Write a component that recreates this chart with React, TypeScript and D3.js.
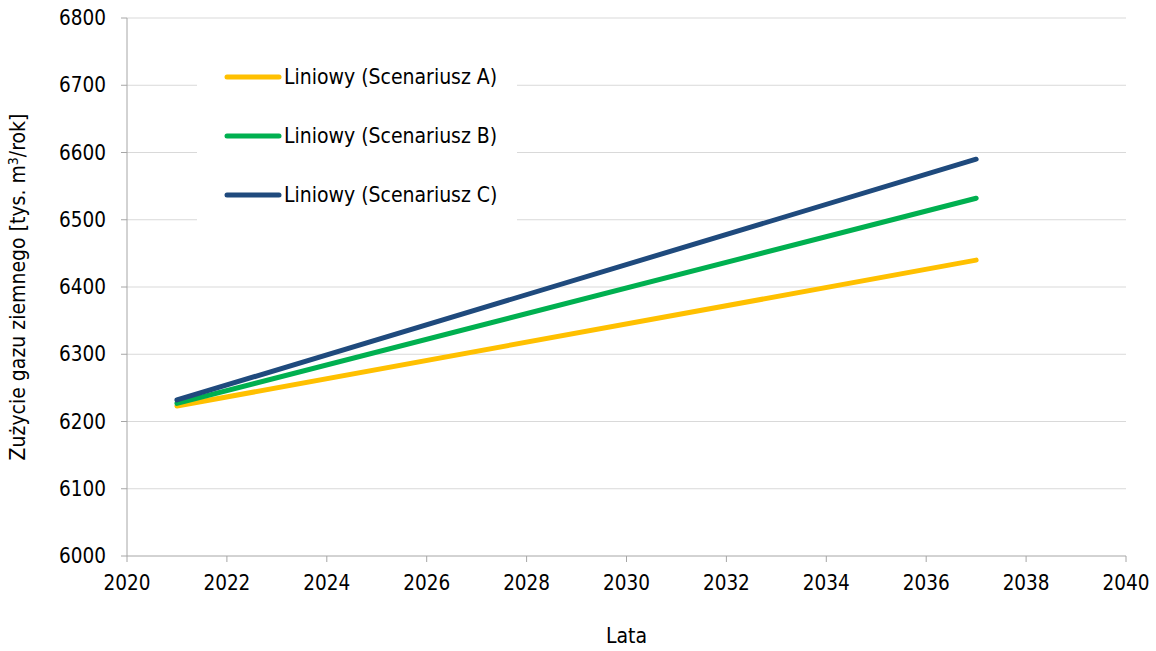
import { useMemo } from "react";
import * as d3 from "d3";

const WIDTH = 1156;
const HEIGHT = 651;

const years = [2021, 2037];
const scenarioA = [6223, 6440];
const scenarioB = [6227, 6532];
const scenarioC = [6232, 6590];
const seriesNames = ["Liniowy (Scenariusz A)", "Liniowy (Scenariusz B)", "Liniowy (Scenariusz C)"];
const seriesColors = ["#FFC000", "#00B050", "#1F4A7D"];
const xTicks = [2020, 2022, 2024, 2026, 2028, 2030, 2032, 2034, 2036, 2038, 2040];
const yTicks = [6000, 6100, 6200, 6300, 6400, 6500, 6600, 6700, 6800];

const FONT = "Tahoma, 'DejaVu Sans Condensed', 'DejaVu Sans', sans-serif";

function App() {
  const left = 127;
  const right = 1126;
  const top = 18;
  const bottom = 556;

  const x = useMemo(() => d3.scaleLinear().domain([2020, 2040]).range([left, right]), []);
  const y = useMemo(() => d3.scaleLinear().domain([6000, 6800]).range([bottom, top]), []);

  const series = [scenarioA, scenarioB, scenarioC];
  const line = d3
    .line<number>()
    .x((_, i) => x(years[i]))
    .y((d) => y(d));

  return (
    <svg width={WIDTH} height={HEIGHT} style={{ position: "absolute", left: 0, top: 0 }} fontFamily={FONT}>
      <rect width={WIDTH} height={HEIGHT} fill="white" />
      {yTicks.map((t) => (
        <g key={t}>
          {t > 6000 && <line x1={left} x2={right} y1={y(t)} y2={y(t)} stroke="#D9D9D9" strokeWidth={1} />}
          <line x1={left - 6} x2={left} y1={y(t)} y2={y(t)} stroke="#A6A6A6" />
          <text x={106} y={y(t)} dy="0.35em" textAnchor="end" fontSize={20.5} fill="#000">
            {t}
          </text>
        </g>
      ))}
      <line x1={left} x2={left} y1={top} y2={bottom} stroke="#A6A6A6" />
      <line x1={left} x2={right} y1={bottom} y2={bottom} stroke="#A6A6A6" />
      {xTicks.map((t) => (
        <g key={t}>
          <line x1={x(t)} x2={x(t)} y1={bottom} y2={bottom + 6} stroke="#A6A6A6" />
          <text x={x(t)} y={590} textAnchor="middle" fontSize={20.5} fill="#000">
            {t}
          </text>
        </g>
      ))}
      {series.map((s, i) => (
        <path
          key={i}
          d={line(s) ?? ""}
          fill="none"
          stroke={seriesColors[i]}
          strokeWidth={5}
          strokeLinecap="round"
        />
      ))}
      <rect x={197} y={55} width={320} height={170} fill="white" />
      {seriesNames.map((name, i) => {
        const ly = 77 + i * 59;
        return (
          <g key={name}>
            <line x1={227} x2={279} y1={ly} y2={ly} stroke={seriesColors[i]} strokeWidth={5} strokeLinecap="round" />
            <text x={284} y={ly} dy="0.35em" fontSize={21} fill="#000">
              {name}
            </text>
          </g>
        );
      })}
      <text x={(left + right) / 2} y={643} textAnchor="middle" fontSize={21} fill="#000">
        Lata
      </text>
      <text
        transform={`translate(25,${(top + bottom) / 2}) rotate(-90)`}
        textAnchor="middle"
        fontSize={21}
        fill="#000"
      >
        Zużycie gazu ziemnego [tys. m
        <tspan dy={-7} fontSize={14}>3</tspan>
        <tspan dy={7}>/rok]</tspan>
      </text>
    </svg>
  );
}

export default App;
